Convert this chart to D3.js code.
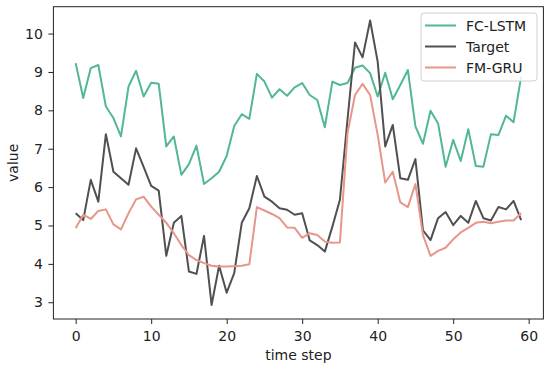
<!DOCTYPE html>
<html>
<head>
<meta charset="utf-8">
<script src="https://cdn.jsdelivr.net/npm/d3@7"></script>
<style>
  body { margin: 0; background: #fff; }
  svg { display: block; }
  text { font-family: "DejaVu Sans", sans-serif; fill: #222; }
</style>
</head>
<body>
<svg id="chart" width="550" height="368"></svg>
<script>
const timeSteps = d3.range(0, 60);
const fcLstm = [9.23, 8.32, 9.10, 9.18, 8.10, 7.80, 7.32, 8.62, 9.03, 8.36,
  8.72, 8.69, 7.06, 7.32, 6.32, 6.60, 7.08, 6.08, 6.23, 6.40,
  6.81, 7.59, 7.90, 7.78, 8.95, 8.75, 8.33, 8.55, 8.38, 8.60,
  8.71, 8.40, 8.27, 7.56, 8.75, 8.66, 8.71, 9.11, 9.17, 8.97,
  8.36, 8.98, 8.29, 8.66, 9.05, 7.58, 7.13, 7.99, 7.66, 6.53,
  7.23, 6.68, 7.51, 6.55, 6.53, 7.38, 7.36, 7.86, 7.69, 8.88];
const target = [5.32, 5.14, 6.19, 5.62, 7.38, 6.40, 6.23, 6.06, 7.01, 6.53,
  6.03, 5.91, 4.21, 5.07, 5.25, 3.80, 3.74, 4.73, 2.93, 3.95,
  3.25, 3.76, 5.07, 5.45, 6.29, 5.75, 5.62, 5.45, 5.41, 5.28,
  5.32, 4.61, 4.49, 4.32, 4.97, 5.67, 7.75, 9.77, 9.38, 10.34,
  9.27, 7.06, 7.62, 6.23, 6.19, 6.73, 4.87, 4.62, 5.19, 5.35,
  5.01, 5.25, 5.07, 5.64, 5.19, 5.13, 5.48, 5.42, 5.64, 5.14];
const fmGru = [4.93, 5.28, 5.17, 5.38, 5.42, 5.03, 4.90, 5.32, 5.68, 5.75,
  5.49, 5.28, 5.07, 4.80, 4.49, 4.23, 4.10, 4.02, 3.95, 3.93,
  3.93, 3.94, 3.95, 3.99, 5.48, 5.39, 5.30, 5.19, 4.95, 4.94,
  4.68, 4.80, 4.75, 4.58, 4.55, 4.56, 7.40, 8.40, 8.69, 8.40,
  7.36, 6.12, 6.40, 5.60, 5.48, 6.08, 4.75, 4.21, 4.34, 4.42,
  4.64, 4.82, 4.94, 5.07, 5.10, 5.06, 5.10, 5.13, 5.13, 5.32];
const xTicks = [0, 10, 20, 30, 40, 50, 60];
const yTicks = [3, 4, 5, 6, 7, 8, 9, 10];
const seriesNames = ["FC-LSTM", "Target", "FM-GRU"];
const seriesColors = ["#52b794", "#505050", "#e6968b"];

const series = [fcLstm, target, fmGru];

const svg = d3.select("#chart");
const L = 53.4, R = 543.4, T = 6.7, B = 319;

const x = d3.scaleLinear().domain([-2.95, 61.95]).range([L, R]);
const y = d3.scaleLinear().domain([2.564, 10.70]).range([B, T]);

// axes
const xAxis = svg.append("g").attr("transform", `translate(0,${B})`)
  .call(d3.axisBottom(x).tickValues(xTicks).tickSize(5).tickPadding(7).tickFormat(d3.format("d")));
const yAxis = svg.append("g").attr("transform", `translate(${L},0)`)
  .call(d3.axisLeft(y).tickValues(yTicks).tickSize(5).tickPadding(5.5).tickFormat(d3.format("d")));
[xAxis, yAxis].forEach(g => {
  g.select(".domain").remove();
  g.selectAll("line").attr("stroke", "#222").attr("stroke-width", 1);
  g.selectAll("text").style("font-family", "DejaVu Sans, sans-serif").style("font-size", "14px").attr("fill", "#222");
});

// lines
const line = d3.line().x((d, i) => x(timeSteps[i])).y(d => y(d));
series.forEach((s, k) => {
  svg.append("path").datum(s)
    .attr("fill", "none")
    .attr("stroke", seriesColors[k])
    .attr("stroke-width", 2)
    .attr("stroke-linejoin", "round")
    .attr("d", line);
});

// frame
svg.append("rect").attr("x", L).attr("y", T).attr("width", R - L).attr("height", B - T)
  .attr("fill", "none").attr("stroke", "#222").attr("stroke-width", 1);

// axis labels
svg.append("text").attr("x", (L + R) / 2).attr("y", 359.5).attr("text-anchor", "middle")
  .style("font-size", "14px").text("time step");
svg.append("text").attr("transform", `translate(17.5,${(T + B) / 2}) rotate(-90)`)
  .attr("text-anchor", "middle").style("font-size", "14px").text("value");

// legend
const lg = svg.append("g");
lg.append("rect").attr("x", 421).attr("y", 13).attr("width", 116).attr("height", 68)
  .attr("rx", 3).attr("fill", "#fff").attr("fill-opacity", 0.85).attr("stroke", "#d0d0d0");
seriesNames.forEach((n, k) => {
  const yy = 25.5 + k * 21;
  lg.append("line").attr("x1", 425).attr("x2", 456).attr("y1", yy).attr("y2", yy)
    .attr("stroke", seriesColors[k]).attr("stroke-width", 2);
  lg.append("text").attr("x", 466).attr("y", yy).attr("dy", "0.36em")
    .style("font-size", "14px").text(n);
});
</script>
</body>
</html>
